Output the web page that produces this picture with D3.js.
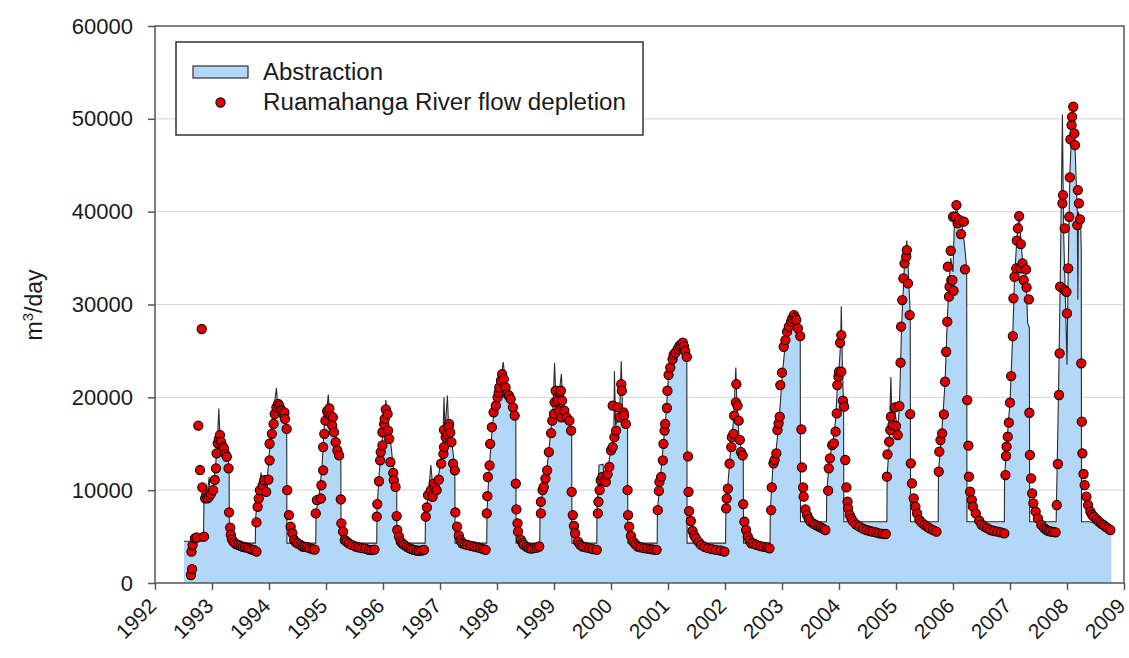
<!DOCTYPE html>
<html><head><meta charset="utf-8">
<script src="https://cdn.jsdelivr.net/npm/d3@7"></script>
<style>
body{margin:0;background:#fff}
svg{display:block}
text{font-family:"Liberation Sans",Arial,sans-serif;fill:#1a1a1a}
</style>
</head><body>
<svg id="chart" width="1129" height="658"></svg>
<script>
const yearTicks = [1992,1993,1994,1995,1996,1997,1998,1999,2000,2001,2002,2003,2004,2005,2006,2007,2008,2009];
const valueTicks = [0,10000,20000,30000,40000,50000,60000];
const seriesNames = ["Abstraction","Ruamahanga River flow depletion"];

// Abstraction (m3/day): [decimal year, value]
const abstraction = [
[1992.51,4500],[1992.85,4500],[1992.86,9500],[1992.92,9700],[1992.95,11400],[1992.97,9800],[1993.02,10200],[1993.06,12500],[1993.09,14500],[1993.12,18800],[1993.14,15500],[1993.18,14800],[1993.24,13800],[1993.30,12800],[1993.305,4300],
[1993.76,4300],[1993.765,7000],[1993.80,9000],[1993.86,11900],[1993.90,10300],[1993.96,10500],[1994.0,13500],[1994.05,17500],[1994.10,19500],[1994.13,21000],[1994.15,19200],[1994.20,19000],[1994.27,18000],[1994.31,17000],[1994.315,4300],
[1994.82,4300],[1994.825,7500],[1994.88,9500],[1994.93,12500],[1994.97,17000],[1995.02,19000],[1995.04,20300],[1995.06,18500],[1995.12,17500],[1995.18,15500],[1995.25,13500],[1995.26,13200],[1995.265,4300],
[1995.89,4300],[1995.895,8000],[1995.93,11500],[1995.97,14500],[1996.02,17500],[1996.05,19700],[1996.07,18500],[1996.12,16000],[1996.18,12500],[1996.24,10500],[1996.245,4300],
[1996.74,4300],[1996.745,7200],[1996.80,9800],[1996.84,12700],[1996.87,10500],[1996.95,10800],[1997.0,12500],[1997.05,15000],[1997.07,20000],[1997.09,16500],[1997.13,20200],[1997.15,17000],[1997.20,15500],[1997.26,12500],[1997.265,4300],
[1997.82,4300],[1997.825,7800],[1997.86,12000],[1997.92,17000],[1997.98,19800],[1998.05,21500],[1998.11,23800],[1998.14,22000],[1998.20,20500],[1998.27,19000],[1998.33,18000],[1998.335,4300],
[1998.75,4300],[1998.755,8000],[1998.82,10500],[1998.88,12500],[1998.93,15500],[1998.98,18500],[1999.01,23700],[1999.03,20500],[1999.07,19500],[1999.13,22500],[1999.15,20000],[1999.22,18000],[1999.31,16500],[1999.315,4300],
[1999.75,4300],[1999.755,7800],[1999.79,12700],[1999.86,12800],[1999.88,11000],[1999.95,12500],[2000.0,14500],[2000.05,16000],[2000.06,22800],[2000.08,17000],[2000.15,18000],[2000.18,23900],[2000.20,19000],[2000.25,17500],[2000.29,17000],[2000.295,4300],
[2000.81,4300],[2000.815,7800],[2000.86,11000],[2000.92,15000],[2000.97,18500],[2001.01,22500],[2001.08,24300],[2001.15,25300],[2001.20,26000],[2001.30,26000],[2001.33,25500],[2001.335,4300],
[2002.01,4300],[2002.015,7800],[2002.05,10500],[2002.10,14500],[2002.15,17500],[2002.19,23200],[2002.21,19000],[2002.25,15500],[2002.32,13500],[2002.325,4300],
[2002.79,4300],[2002.795,7800],[2002.84,12500],[2002.90,14500],[2002.95,17500],[2003.0,22000],[2003.06,26000],[2003.12,27800],[2003.20,29000],[2003.27,29000],[2003.32,27000],[2003.325,6600],
[2003.78,6600],[2003.785,10000],[2003.84,13500],[2003.90,15500],[2003.94,17500],[2003.97,21000],[2004.0,23000],[2004.03,26000],[2004.04,29800],[2004.06,23000],[2004.08,19000],[2004.085,6600],
[2004.84,6600],[2004.845,11500],[2004.88,15000],[2004.91,22200],[2004.93,17000],[2004.98,18500],[2005.03,16500],[2005.06,19000],[2005.10,28000],[2005.15,34500],[2005.19,36900],[2005.22,33000],[2005.25,29000],[2005.255,6600],
[2005.74,6600],[2005.745,12000],[2005.80,16000],[2005.86,21500],[2005.90,28500],[2005.93,32000],[2005.96,35000],[2006.0,33500],[2006.02,38000],[2006.06,40700],[2006.10,39000],[2006.16,38500],[2006.20,36500],[2006.24,34000],[2006.245,6600],
[2006.90,6600],[2006.905,11500],[2006.95,15500],[2007.0,19500],[2007.05,27000],[2007.08,33000],[2007.12,37000],[2007.16,40000],[2007.19,37000],[2007.23,34000],[2007.28,33500],[2007.31,28000],[2007.34,27500],[2007.345,6600],
[2007.81,6600],[2007.815,8500],[2007.85,20000],[2007.88,32000],[2007.92,50500],[2007.94,38000],[2007.97,31000],[2008.0,23500],[2008.02,33500],[2008.05,44000],[2008.08,48500],[2008.11,50000],[2008.14,47000],[2008.18,40000],[2008.19,30500],[2008.20,40000],[2008.24,38500],[2008.25,36000],[2008.255,6600],
[2008.40,6600],[2008.78,5800]
];

// Ruamahanga River flow depletion (m3/day): [decimal year, value]
const depletion = [
[1992.63,860],[1992.65,1500],[1992.64,3370],[1992.66,4090],[1992.70,4810],[1992.73,4900],[1992.82,27360],[1992.76,16950],[1992.79,12170],[1992.83,10300],[1992.86,4990],[1992.88,9120],[1992.90,9500],[1992.92,9120],[1992.95,9300],[1992.98,9600],[1993.02,10000],[1993.05,11100],[1993.07,12350],[1993.08,13970],[1993.10,15050],[1993.12,15500],[1993.14,15940],[1993.16,15200],[1993.19,14690],[1993.21,14500],[1993.23,13900],[1993.26,13600],[1993.29,12350],[1993.30,7610],[1993.32,5960],[1993.33,5200],[1993.35,4700],[1993.38,4400],[1993.42,4200],[1993.46,4100],[1993.50,4000],[1993.54,3900],[1993.58,3850],[1993.62,3800],[1993.66,3700],[1993.70,3600],[1993.74,3550],
[1993.78,3390],[1993.78,6530],[1993.80,8210],[1993.82,9100],[1993.84,10000],[1993.89,10530],[1993.95,9820],[1993.92,11070],[1993.99,11140],[1994.01,13210],[1994.01,15000],[1994.05,16070],[1994.08,17140],[1994.10,18210],[1994.13,18920],[1994.16,19300],[1994.18,19100],[1994.20,18700],[1994.22,18560],[1994.25,18200],[1994.27,18390],[1994.28,17670],[1994.31,16600],[1994.32,10000],[1994.35,7320],[1994.38,6070],[1994.41,5360],[1994.44,4640],[1994.47,4400],[1994.50,4280],[1994.55,4100],[1994.59,3930],[1994.63,3900],[1994.67,3860],[1994.71,3750],[1994.76,3640],[1994.80,3600],
[1994.82,7500],[1994.84,8930],[1994.91,9100],[1994.92,10530],[1994.95,12140],[1994.95,14640],[1994.97,16070],[1994.99,17490],[1995.02,18500],[1995.04,18210],[1995.06,18800],[1995.08,18030],[1995.12,17850],[1995.11,16960],[1995.14,16250],[1995.17,15170],[1995.20,14280],[1995.23,13740],[1995.26,9000],[1995.27,6430],[1995.30,5530],[1995.33,4640],[1995.36,4450],[1995.40,4280],[1995.45,4100],[1995.52,3930],[1995.57,3850],[1995.63,3750],[1995.69,3700],[1995.75,3570],[1995.80,3550],[1995.85,3600],
[1995.89,7140],[1995.90,8500],[1995.93,10960],[1995.95,13210],[1995.96,14100],[1995.99,14820],[1995.99,16240],[1996.02,17140],[1996.03,17670],[1996.05,18700],[1996.08,18210],[1996.09,16420],[1996.11,15530],[1996.13,13030],[1996.18,11850],[1996.19,11070],[1996.22,10350],[1996.24,7210],[1996.25,5710],[1996.28,5000],[1996.31,4460],[1996.34,4250],[1996.37,4100],[1996.42,3900],[1996.46,3750],[1996.50,3650],[1996.54,3570],[1996.59,3500],[1996.63,3460],[1996.68,3500],[1996.72,3570],
[1996.75,7140],[1996.77,8140],[1996.79,9460],[1996.84,10000],[1996.89,10710],[1996.87,9280],[1996.91,10300],[1996.94,10000],[1996.98,11140],[1997.02,12850],[1997.06,13920],[1997.07,14640],[1997.10,15710],[1997.07,16490],[1997.13,15990],[1997.16,17140],[1997.15,16800],[1997.18,16200],[1997.20,15170],[1997.23,12850],[1997.26,12140],[1997.27,7600],[1997.30,6070],[1997.33,5110],[1997.36,4600],[1997.39,4280],[1997.44,4150],[1997.48,4100],[1997.54,4000],[1997.60,3930],[1997.66,3850],[1997.71,3750],[1997.76,3650],[1997.80,3570],
[1997.82,7500],[1997.83,9350],[1997.84,11420],[1997.87,12670],[1997.88,14990],[1997.91,16780],[1997.94,18390],[1997.98,19100],[1998.01,19990],[1998.03,20500],[1998.04,21060],[1998.07,21800],[1998.09,22490],[1998.12,21960],[1998.15,21060],[1998.18,20350],[1998.21,20170],[1998.24,19810],[1998.28,18920],[1998.31,18030],[1998.33,10710],[1998.34,7930],[1998.36,6430],[1998.37,5530],[1998.42,4640],[1998.45,4300],[1998.47,4100],[1998.52,3900],[1998.56,3750],[1998.60,3700],[1998.65,3750],[1998.70,3800],[1998.74,3930],
[1998.77,7500],[1998.77,8750],[1998.80,10000],[1998.82,10350],[1998.85,11250],[1998.88,12140],[1998.91,14100],[1998.95,16140],[1998.97,17490],[1999.0,18210],[1999.01,19460],[1999.03,20710],[1999.06,19640],[1999.09,18560],[1999.10,20530],[1999.12,20710],[1999.13,17850],[1999.14,19640],[1999.18,18560],[1999.22,17850],[1999.27,17490],[1999.30,16420],[1999.31,9820],[1999.33,7320],[1999.35,6140],[1999.37,5360],[1999.42,4460],[1999.46,4100],[1999.50,3930],[1999.56,3850],[1999.62,3750],[1999.68,3650],[1999.75,3570],
[1999.77,7500],[1999.78,8750],[1999.80,10000],[1999.82,11070],[1999.85,11420],[1999.88,11000],[1999.91,10890],[1999.94,11710],[1999.97,12500],[2000.0,14280],[2000.03,14640],[2000.06,15710],[2000.09,16420],[2000.03,19100],[2000.12,18920],[2000.15,17850],[2000.18,21420],[2000.19,20710],[2000.22,18390],[2000.23,18030],[2000.26,17140],[2000.29,10000],[2000.30,7320],[2000.32,6070],[2000.35,5070],[2000.39,4460],[2000.43,4150],[2000.47,3930],[2000.52,3850],[2000.58,3750],[2000.64,3700],[2000.70,3640],[2000.75,3600],[2000.80,3570],
[2000.82,7850],[2000.84,9920],[2000.85,10890],[2000.88,11420],[2000.91,13210],[2000.92,14990],[2000.94,16420],[2000.95,17140],[2000.98,18850],[2000.99,20710],[2001.01,22420],[2001.04,23210],[2001.08,24100],[2001.10,24600],[2001.13,24810],[2001.17,25200],[2001.20,25530],[2001.23,25700],[2001.26,25880],[2001.28,25500],[2001.30,24990],[2001.33,24350],[2001.35,13640],[2001.36,9820],[2001.37,7750],[2001.40,6680],[2001.43,5600],[2001.46,5100],[2001.49,4820],[2001.54,4400],[2001.58,4100],[2001.64,3900],[2001.70,3750],[2001.77,3650],[2001.84,3570],[2001.92,3500],[2001.99,3390],
[2002.02,8030],[2002.03,9100],[2002.05,10170],[2002.08,12850],[2002.11,14640],[2002.12,15710],[2002.15,16070],[2002.16,18030],[2002.19,19460],[2002.20,21420],[2002.22,19100],[2002.24,17490],[2002.26,15420],[2002.28,14100],[2002.31,13740],[2002.32,8500],[2002.34,6600],[2002.37,5710],[2002.40,5000],[2002.43,4600],[2002.46,4280],[2002.50,4270],[2002.55,4100],[2002.62,3980],[2002.68,3900],[2002.74,3840],[2002.78,3730],
[2002.81,7860],[2002.82,10300],[2002.85,12890],[2002.87,13250],[2002.90,13970],[2002.92,16480],[2002.94,17200],[2002.96,17910],[2002.97,21320],[2003.0,22650],[2003.03,25450],[2003.06,26170],[2003.09,27070],[2003.12,27610],[2003.16,28150],[2003.18,28500],[2003.21,28860],[2003.23,28600],[2003.25,28330],[2003.28,27430],[2003.32,26600],[2003.34,16550],[2003.35,12460],[2003.37,10300],[2003.38,9300],[2003.41,7930],[2003.44,7320],[2003.47,6900],[2003.50,6610],[2003.55,6400],[2003.59,6250],[2003.64,6100],[2003.68,6000],[2003.72,5850],[2003.76,5710],
[2003.81,9940],[2003.82,12350],[2003.84,13430],[2003.88,14860],[2003.91,15040],[2003.94,16300],[2003.96,18270],[2003.97,21320],[2003.99,22220],[2004.0,22760],[2004.02,25880],[2004.04,26710],[2004.04,22760],[2004.07,19640],[2004.09,18990],[2004.11,13250],[2004.13,10300],[2004.15,8760],[2004.16,8040],[2004.19,7320],[2004.22,6900],[2004.25,6610],[2004.30,6300],[2004.36,6070],[2004.42,5850],[2004.48,5710],[2004.54,5600],[2004.59,5530],[2004.65,5450],[2004.71,5350],[2004.77,5300],[2004.82,5280],
[2004.84,11450],[2004.85,13860],[2004.88,15220],[2004.90,16480],[2004.91,17910],[2004.94,17020],[2004.98,18920],[2005.0,16910],[2005.03,15940],[2005.06,19060],[2005.08,23730],[2005.09,27610],[2005.11,30480],[2005.13,32810],[2005.15,34430],[2005.18,35150],[2005.19,35860],[2005.21,32270],[2005.24,28860],[2005.25,18200],[2005.26,12890],[2005.28,10730],[2005.31,9120],[2005.34,8220],[2005.37,7500],[2005.41,6790],[2005.45,6500],[2005.50,6250],[2005.55,6050],[2005.59,5890],[2005.65,5700],[2005.71,5530],
[2005.75,12000],[2005.76,14150],[2005.78,15400],[2005.81,16120],[2005.84,18170],[2005.86,21680],[2005.88,24910],[2005.90,28150],[2005.91,34070],[2005.93,30840],[2005.94,31920],[2005.96,35790],[2005.97,32630],[2005.99,32630],[2006.0,39450],[2006.01,31480],[2006.04,39450],[2006.06,40710],[2006.08,38740],[2006.11,39100],[2006.14,37590],[2006.19,38920],[2006.21,33780],[2006.25,19710],[2006.27,14790],[2006.28,11450],[2006.30,9840],[2006.33,8940],[2006.35,8220],[2006.40,7500],[2006.46,6710],[2006.50,6300],[2006.55,6070],[2006.60,5900],[2006.66,5710],[2006.72,5600],[2006.78,5530],[2006.84,5450],[2006.90,5350],
[2006.92,11630],[2006.93,13680],[2006.94,14680],[2006.96,15760],[2006.98,17270],[2007.0,19420],[2007.02,22290],[2007.05,26600],[2007.06,30660],[2007.08,32990],[2007.11,33890],[2007.12,36870],[2007.14,38200],[2007.16,39530],[2007.19,36510],[2007.18,33890],[2007.22,34430],[2007.24,32630],[2007.28,33780],[2007.29,31840],[2007.33,30550],[2007.34,18340],[2007.35,13790],[2007.37,11270],[2007.39,9660],[2007.41,8580],[2007.45,7680],[2007.49,6960],[2007.55,6250],[2007.60,5900],[2007.64,5710],[2007.68,5600],[2007.72,5530],[2007.76,5500],[2007.80,5460],
[2007.82,8400],[2007.84,12820],[2007.86,20250],[2007.87,24740],[2007.88,31920],[2007.92,40890],[2007.93,41790],[2007.96,38200],[2007.96,31560],[2007.99,31370],[2008.0,29040],[2008.02,33890],[2008.04,39450],[2008.05,43690],[2008.06,47780],[2008.08,49330],[2008.09,50220],[2008.11,51300],[2008.13,48430],[2008.14,47170],[2008.19,42330],[2008.21,40890],[2008.18,38560],[2008.23,39170],[2008.25,23660],[2008.26,17380],[2008.27,13970],[2008.29,11740],[2008.31,10550],[2008.34,9300],[2008.37,8400],[2008.41,7680],[2008.44,7350],[2008.47,7140],[2008.52,6850],[2008.56,6610],[2008.60,6400],[2008.64,6250],[2008.68,6050],[2008.72,5890],[2008.76,5710]
];

const svg = d3.select("#chart");
const pLeft = 155, pRight = 1124, pTop = 26, pBottom = 583;
const x = d3.scaleLinear().domain([1992, 2009]).range([pLeft, pRight]);
const y = d3.scaleLinear().domain([0, 60000]).range([pBottom, pTop]);
const FONT = '"Liberation Sans", Arial, sans-serif';

svg.append("rect").attr("width",1129).attr("height",658).attr("fill","#fff");

// gridlines
svg.append("g").selectAll("line")
  .data(valueTicks.filter(v => v > 0 && v < 60000))
  .join("line")
  .attr("x1", pLeft).attr("x2", pRight)
  .attr("y1", d => y(d)).attr("y2", d => y(d))
  .attr("stroke", "#dcdcdc").attr("stroke-width", 1.2);

// abstraction area
const area = d3.area().x(d => x(d[0])).y0(y(0)).y1(d => y(d[1]));
const line = d3.line().x(d => x(d[0])).y(d => y(d[1]));
svg.append("path").datum(abstraction).attr("d", area).attr("fill", "#b3d7f6");
svg.append("path").datum(abstraction).attr("d", line)
  .attr("fill", "none").attr("stroke", "#2b2b2b").attr("stroke-width", 1.1);

// depletion dots
svg.append("g").selectAll("circle")
  .data(depletion)
  .join("circle")
  .attr("cx", d => x(d[0])).attr("cy", d => y(d[1]))
  .attr("r", 4.6)
  .attr("fill", "#dd0000").attr("stroke", "#1a0000").attr("stroke-width", 1.1);

// frame
svg.append("rect").attr("x", pLeft).attr("y", pTop)
  .attr("width", pRight - pLeft).attr("height", pBottom - pTop)
  .attr("fill", "none").attr("stroke", "#555").attr("stroke-width", 1.5);

// y axis
const yAxis = svg.append("g").attr("transform", `translate(${pLeft},0)`)
  .call(d3.axisLeft(y).tickValues(valueTicks).tickFormat(d3.format("d")).tickSize(7).tickPadding(15));
yAxis.select(".domain").remove();
yAxis.selectAll("line").attr("stroke", "#555").attr("stroke-width", 1.5);
yAxis.selectAll("text").attr("font-size", 22).attr("fill", "#1a1a1a").style("font-family", FONT);

// x axis
const xAxis = svg.append("g").attr("transform", `translate(0,${pBottom})`)
  .call(d3.axisBottom(x).tickValues(yearTicks).tickFormat(d3.format("d")).tickSize(7));
xAxis.select(".domain").remove();
xAxis.selectAll("line").attr("stroke", "#555").attr("stroke-width", 1.5);
xAxis.selectAll("text")
  .attr("x", 0).attr("y", 0).attr("dy", "0.35em")
  .attr("transform", "translate(-3,19) rotate(-45)")
  .attr("text-anchor", "end")
  .attr("font-size", 21).attr("fill", "#1a1a1a").style("font-family", FONT);

// y axis title
const yt = svg.append("text")
  .attr("transform", "translate(42,305) rotate(-90)")
  .attr("text-anchor", "middle").attr("font-size", 23);
yt.append("tspan").text("m");
yt.append("tspan").attr("dy", -9).attr("font-size", 15).text("3");
yt.append("tspan").attr("dy", 9).text("/day");

// legend
const lg = svg.append("g");
lg.append("rect").attr("x", 176).attr("y", 42).attr("width", 467).attr("height", 93)
  .attr("fill", "#fff").attr("stroke", "#333").attr("stroke-width", 1.5);
lg.append("rect").attr("x", 193).attr("y", 66).attr("width", 55).attr("height", 12)
  .attr("fill", "#b3d7f6").attr("stroke", "#333").attr("stroke-width", 1.2);
lg.append("circle").attr("cx", 220.5).attr("cy", 102.5).attr("r", 4.6)
  .attr("fill", "#dd0000").attr("stroke", "#1a0000").attr("stroke-width", 1.1);
lg.append("text").attr("x", 263).attr("y", 80).attr("font-size", 23)
  .attr("textLength", 120).attr("lengthAdjust", "spacingAndGlyphs").text(seriesNames[0]);
lg.append("text").attr("x", 263).attr("y", 110).attr("font-size", 23)
  .attr("textLength", 363).attr("lengthAdjust", "spacingAndGlyphs").text(seriesNames[1]);
</script>
</body></html>
